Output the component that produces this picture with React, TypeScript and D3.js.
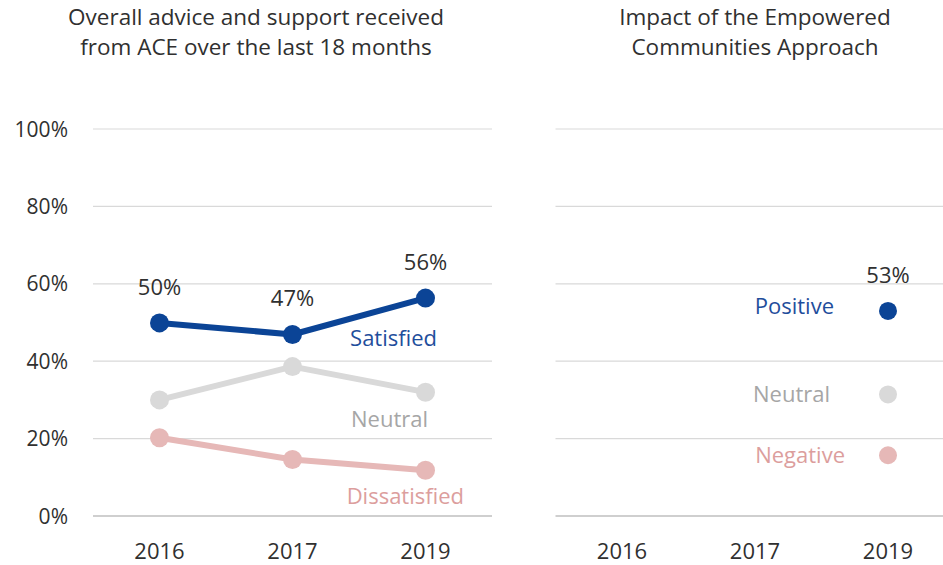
import React from 'react';
import * as d3 from 'd3';

const years = ['2016', '2017', '2019'];
const yTicks = [0, 20, 40, 60, 80, 100];

const satisfied = [49.9, 46.9, 56.3];
const neutral = [30.0, 38.6, 32.0];
const dissatisfied = [20.2, 14.6, 11.8];

const impactYear = '2019';
const positive = 53.0;
const impactNeutral = 31.4;
const negative = 15.7;

const satisfiedLabels = ['50%', '47%', '56%'];
const positiveLabel = '53%';

const width = 943;
const height = 565;
const font = "'Open Sans', sans-serif";

const blue = '#0b4496';
const grey = '#d9d9d9';
const pink = '#e6b8b7';
const ink = '#303030';

const y = d3.scaleLinear().domain([0, 100]).range([516, 129]);
const xLeft = d3.scaleBand().domain(years).range([93, 492]);
const xRight = d3.scaleBand().domain(years).range([555.5, 954.5]);

const cx = (sc: d3.ScaleBand<string>, k: string) => (sc(k) as number) + sc.bandwidth() / 2;

function Grid({ sc }: { sc: d3.ScaleBand<string> }) {
  const [x0, x1] = sc.range();
  return (
    <g>
      {yTicks.map((t) => (
        <line key={t} x1={x0} x2={x1} y1={y(t)} y2={y(t)} stroke={t === 0 ? '#bfbfbf' : '#d9d9d9'} strokeWidth={t === 0 ? 1.5 : 1.2} />
      ))}
      {years.map((yr) => (
        <text key={yr} x={cx(sc, yr)} y={559} textAnchor="middle" fontSize={22} fill={ink}>
          {yr}
        </text>
      ))}
    </g>
  );
}

function Series({ values, color }: { values: number[]; color: string }) {
  const line = d3
    .line<number>()
    .x((_, i) => cx(xLeft, years[i]))
    .y((d) => y(d));
  return (
    <g>
      <path d={line(values) ?? ''} fill="none" stroke={color} strokeWidth={6} strokeLinejoin="round" />
      {values.map((v, i) => (
        <circle key={i} cx={cx(xLeft, years[i])} cy={y(v)} r={9.5} fill={color} />
      ))}
    </g>
  );
}

export default function App() {
  return (
    <svg width={width} height={height} fontFamily={font} style={{ position: 'absolute', left: 0, top: 0, background: '#fff' }}>
      {/* titles */}
      <g fontSize={22.5} fill={ink} textAnchor="middle">
        <text x={256} y={25}>Overall advice and support received</text>
        <text x={256} y={55}>from ACE over the last 18 months</text>
        <text x={755} y={25}>Impact of the Empowered</text>
        <text x={755} y={55}>Communities Approach</text>
      </g>

      {/* y axis labels */}
      <g fontSize={21} fill={ink} textAnchor="end">
        {yTicks.map((t) => (
          <text key={t} x={68} y={y(t) + 7.5}>{t}%</text>
        ))}
      </g>

      <Grid sc={xLeft} />
      <Grid sc={xRight} />

      {/* left panel */}
      <Series values={dissatisfied} color={pink} />
      <Series values={neutral} color={grey} />
      <Series values={satisfied} color={blue} />
      <g fontSize={22} fill={ink} textAnchor="middle">
        {satisfied.map((v, i) => (
          <text key={i} x={cx(xLeft, years[i])} y={y(v) - 28}>{satisfiedLabels[i]}</text>
        ))}
      </g>
      <g fontSize={22} textAnchor="end">
        <text x={437} y={346} fill="#1f4e9c">Satisfied</text>
        <text x={428} y={427} fill="#a6a6a6">Neutral</text>
        <text x={464} y={504} fill="#dc9e9d">Dissatisfied</text>
      </g>

      {/* right panel */}
      <circle cx={cx(xRight, impactYear)} cy={y(positive)} r={9} fill={blue} />
      <circle cx={cx(xRight, impactYear)} cy={y(impactNeutral)} r={9} fill={grey} />
      <circle cx={cx(xRight, impactYear)} cy={y(negative)} r={9} fill={pink} />
      <g fontSize={22}>
        <text x={cx(xRight, impactYear)} y={y(positive) - 28} textAnchor="middle" fill={ink}>{positiveLabel}</text>
        <text x={834} y={314} textAnchor="end" fill="#1f4e9c">Positive</text>
        <text x={830} y={402} textAnchor="end" fill="#a6a6a6">Neutral</text>
        <text x={845} y={463} textAnchor="end" fill="#dc9e9d">Negative</text>
      </g>
    </svg>
  );
}
